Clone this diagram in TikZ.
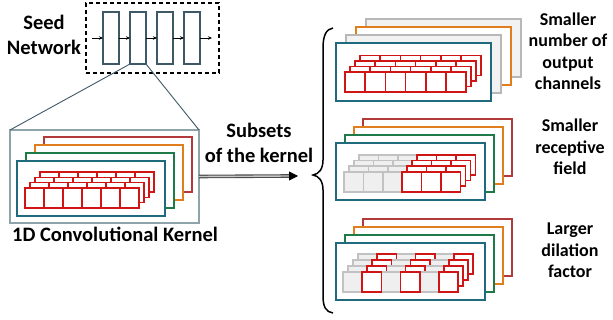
\documentclass[tikz,border=0pt]{standalone}
\usepackage{fontspec}
\setmainfont{Carlito}
\usetikzlibrary{arrows.meta}
\definecolor{tealc}{HTML}{1F6B7D}
\definecolor{greenc}{HTML}{1E7A46}
\definecolor{orangec}{HTML}{E07D1C}
\definecolor{framered}{HTML}{B23A3A}
\definecolor{cellred}{HTML}{D01515}
\definecolor{slate}{HTML}{3E5866}
\definecolor{boxgray}{HTML}{8FA3AB}
\definecolor{framegray}{HTML}{B8B8B8}
\definecolor{fillgray}{HTML}{F2F2F2}
\definecolor{cellgrayd}{HTML}{C2C2C2}
\definecolor{cellgrayf}{HTML}{EFEFEF}
\begin{document}
\begin{tikzpicture}[x=1pt,y=-1pt,
  box/.style={inner sep=0pt, outer sep=0pt, anchor=north west},
  frm/.style={box, fill=white, line width=1.8pt},
  cellr/.style={box, draw=cellred, fill=white, line width=1.6pt},
  cellg/.style={box, draw=cellgrayd, fill=cellgrayf, line width=1.6pt},
  biglbl/.style={inner sep=0pt, font=\fontsize{20.5}{25}\selectfont\bfseries, align=center, anchor=base},
  smlbl/.style={inner sep=0pt, font=\fontsize{18}{21.5}\selectfont\bfseries, align=center, anchor=base},
  smallarrow/.style={-{Stealth[length=4pt,width=3.5pt]}, line width=0.8pt, black},
  zoomline/.style={slate, line width=0.9pt}]
\useasboundingbox (0,0) rectangle (613,320);

% ---------- Seed network ----------
\node[box, draw=black, line width=1.8pt, dash pattern=on 4pt off 3pt, minimum width=133pt, minimum height=70pt] (seedbox) at (86,3) {};
\foreach \k/\x in {1/103,2/130,3/157,4/184}
  \node[box, draw=slate, line width=1.6pt, fill=white, minimum width=16pt, minimum height=52pt] (s\k) at (\x,12) {};
\coordinate (inarr) at (92,38);
\coordinate (outarr) at (212,38);
\draw[smallarrow] (inarr) -- (s1.west);
\draw[smallarrow] (s1.east) -- (s2.west);
\draw[smallarrow] (s2.east) -- (s3.west);
\draw[smallarrow] (s3.east) -- (s4.west);
\draw[smallarrow] (s4.east) -- (outarr);
\node[biglbl] (seedlbl) at (44,55) {Seed\\Network};

% ---------- Left kernel ----------
\node[box, draw=boxgray, line width=1.2pt, minimum width=189pt, minimum height=93pt] (bigbox) at (10,130) {};
\draw[zoomline] (s2.south west) -- (bigbox.north west);
\draw[zoomline] (s2.south east) -- (bigbox.north east);
\node[frm, draw=framered, minimum width=148pt, minimum height=55pt] (lf4) at (44,137) {};
\node[frm, draw=orangec, minimum width=148pt, minimum height=55pt] (lf3) at (35,145) {};
\node[frm, draw=greenc, minimum width=148pt, minimum height=55pt] (lf2) at (26,153) {};
\node[frm, draw=tealc, minimum width=148pt, minimum height=55pt] (lf1) at (17,161) {};
\foreach \l in {3,2,1,0}
  \foreach \i in {0,...,5}
    \node[cellr, minimum width=19pt, minimum height=20pt] (lc-\l-\i) at ({25+\i*19+\l*5},{188-\l*5.3}) {};
\node[biglbl] (kernlbl) at (115,242) {1D Convolutional Kernel};

% ---------- Arrow ----------
\coordinate (bracetip) at (313,175);
\coordinate (arrowend) at (298,176);
\draw[draw=black!70, line width=1.1pt, double=gray!45, double distance=1.4pt] (bigbox.east) -- ([xshift=-8pt]arrowend);
\draw[-{Triangle[length=9pt,width=9pt]}, line width=0.8pt, black] ([xshift=-9pt]arrowend) -- (arrowend);
\node[biglbl] (sublbl) at (259,163) {Subsets\\of the kernel};

% ---------- Brace ----------
\coordinate (bracetop) at (333,28);
\coordinate (bracebot) at (333,313);
\draw[line width=1.5pt, black] (bracetop) .. controls (326,29) and (323,36) .. (323,48) -- (323,160)
  .. controls (323,169) and (319,174) .. (bracetip)
  .. controls (319,176) and (323,181) .. (323,190) -- (323,296)
  .. controls (323,307) and (326,312) .. (bracebot);

% ---------- Top group ----------
\node[frm, draw=framegray, fill=fillgray, line width=1.5pt, minimum width=155pt, minimum height=58pt] (tf4) at (366,19) {};
\node[frm, draw=orangec, minimum width=155pt, minimum height=58pt] (tf3) at (356,27) {};
\node[frm, draw=framegray, fill=fillgray, line width=1.5pt, minimum width=155pt, minimum height=58pt] (tf2) at (346,35) {};
\node[frm, draw=tealc, line width=2.6pt, minimum width=155pt, minimum height=58pt] (tf1) at (336,43) {};
\foreach \l in {3,2,1,0}
  \foreach \i in {0,...,5}
    \node[cellr, minimum width=20.2pt, minimum height=20pt] (tc-\l-\i) at ({345+\i*20.2+\l*5},{72-\l*5.5}) {};
\node[smlbl] (toplbl) at (568,90) {Smaller\\number of\\output\\channels};

% ---------- Middle group ----------
\node[frm, draw=framered, minimum width=149pt, minimum height=57pt] (mf4) at (363,119) {};
\node[frm, draw=orangec, minimum width=149pt, minimum height=57pt] (mf3) at (354,127) {};
\node[frm, draw=greenc, minimum width=149pt, minimum height=57pt] (mf2) at (345,135) {};
\node[frm, draw=tealc, minimum width=149pt, minimum height=57pt] (mf1) at (336,143) {};
\foreach \l in {3,2,1,0} {
  \foreach \i in {0,1,2}
    \node[cellg, minimum width=19.4pt, minimum height=20pt] (mc-\l-\i) at ({344+\i*19.4+\l*5},{172-\l*5.7}) {};
  \foreach \i in {3,4,5}
    \node[cellr, minimum width=19.4pt, minimum height=20pt] (mc-\l-\i) at ({344+\i*19.4+\l*5},{172-\l*5.7}) {};
}
\node[smlbl] (midlbl) at (570,175) {Smaller\\receptive\\field};

% ---------- Bottom group ----------
\node[frm, draw=framered, minimum width=149pt, minimum height=57pt] (bf4) at (363,219) {};
\node[frm, draw=orangec, minimum width=149pt, minimum height=57pt] (bf3) at (354,227) {};
\node[frm, draw=greenc, minimum width=149pt, minimum height=57pt] (bf2) at (345,235) {};
\node[frm, draw=tealc, minimum width=149pt, minimum height=57pt] (bf1) at (336,243) {};
\foreach \l in {3,2,1,0} {
  \foreach \i in {0,2,4}
    \node[cellg, minimum width=19.2pt, minimum height=20pt] (bc-\l-\i) at ({343+\i*19.2+\l*5},{272-\l*6}) {};
  \foreach \i in {1,3,5}
    \node[cellr, minimum width=19.2pt, minimum height=20pt] (bc-\l-\i) at ({343+\i*19.2+\l*5},{272-\l*6}) {};
}
\node[smlbl] (botlbl) at (570,278) {Larger\\dilation\\factor};
\end{tikzpicture}
\end{document}
